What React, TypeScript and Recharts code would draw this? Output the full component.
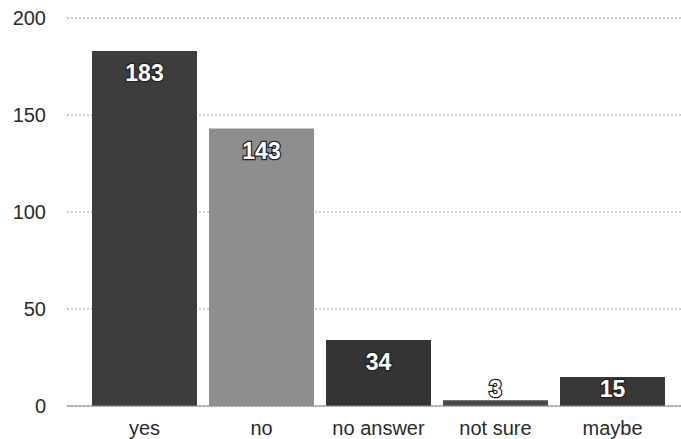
import React from "react";
import { BarChart, Bar, XAxis, YAxis, CartesianGrid, Cell, LabelList } from "recharts";

const categories = ["yes", "no", "no answer", "not sure", "maybe"];
const counts = [183, 143, 34, 3, 15];
const barColors = ["#3d3d3d", "#8e8e8e", "#343434", "#4a4a4a", "#383838"];
const yTicks = [0, 50, 100, 150, 200];

const data = categories.map((c, i) => ({ name: c, value: counts[i] }));

const FONT = "'Liberation Sans', Arial, Helvetica, sans-serif";

const ValueLabel = (props: any) => {
  const { x, y, width, height, value } = props;
  const bottom = y + height;
  const cy = Math.min(y + 22, bottom - 17);
  return (
    <text
      x={x + width / 2}
      y={cy}
      dy="0.36em"
      textAnchor="middle"
      fontFamily={FONT}
      fontWeight="bold"
      fontSize={23}
      fill="#ffffff"
      stroke="#222222"
      strokeWidth={2.5}
      paintOrder="stroke"
    >
      {value}
    </text>
  );
};

export default function App() {
  return (
    <div style={{ position: "absolute", left: 0, top: 0, background: "#fff" }}>
      <BarChart
        width={681}
        height={439}
        data={data}
        margin={{ top: 18, right: 0, left: 0, bottom: 3 }}
        barCategoryGap={12}
      >
        <CartesianGrid
          vertical={false}
          stroke="#9a9a9a"
          strokeDasharray="2 2"
        />
        <XAxis
          dataKey="name"
          height={30}
          padding={{ left: 19, right: 10 }}
          tickLine={false}
          tickSize={6}
          tickMargin={9}
          axisLine={{ stroke: "#8a8a8a" }}
          tick={{ fill: "#2a2a2a", fontSize: 20, fontFamily: FONT }}
          interval={0}
        />
        <YAxis
          width={67}
          domain={[0, 200]}
          ticks={yTicks}
          tickLine={false}
          axisLine={false}
          tickSize={6}
          tickMargin={15}
          tick={{ fill: "#2a2a2a", fontSize: 20, fontFamily: FONT }}
        />
        <Bar dataKey="value" isAnimationActive={false} barSize={105}>
          {data.map((d, i) => (
            <Cell key={d.name} fill={barColors[i]} />
          ))}
          <LabelList dataKey="value" content={ValueLabel} />
        </Bar>
      </BarChart>
    </div>
  );
}
